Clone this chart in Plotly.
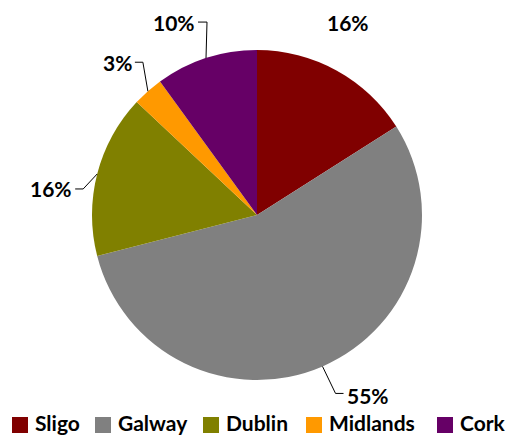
import math
import plotly.graph_objects as go

regions = ["Sligo", "Galway", "Dublin", "Midlands", "Cork"]
shares = [16, 55, 16, 3, 10]
colors = ["#800000", "#808080", "#808000", "#FF9900", "#660066"]

W, H = 507, 436
CX, CY, R = 257, 215, 165  # pie centre / radius in px

# label placement (layout): leader bend offset and label offset relative to slice edge point (px)
label_style = {
    "Sligo":    dict(bend=None, end=None, text=(12, -48), anchor="center"),
    "Galway":   dict(bend=(13, 27), end=(21, 27), text=(22, 29), anchor="left"),
    "Dublin":   dict(bend=(-14, 15), end=(-22, 15), text=(-23, 15), anchor="right"),
    "Midlands": dict(bend=(-5, -29), end=(-13, -29), text=(-14, -29), anchor="right"),
    "Cork":     dict(bend=(1, -36), end=(-8, -36), text=(-9, -36), anchor="right"),
}
# legend layout: x of each swatch (px), legend row centre y
legend_x = [12, 95, 203, 306, 437]
LEG_Y, SW = 425, 16

FONT = "Lato, Calibri, Arial, sans-serif"
FS = 21


def px2paper(x, y):
    return x / W, 1 - y / H


fig = go.Figure(go.Pie(
    labels=regions, values=shares, sort=False, direction="clockwise", rotation=0,
    marker=dict(colors=colors, line=dict(width=0)), textinfo="none", hoverinfo="label+percent",
    domain=dict(x=[(CX - R) / W, (CX + R) / W], y=[1 - (CY + R) / H, 1 - (CY - R) / H]),
    showlegend=False,
))

total = sum(shares)
cum = 0
annotations, shapes = [], []
for name, v in zip(regions, shares):
    mid = (cum + v / 2) / total * 2 * math.pi
    cum += v
    ex, ey = CX + R * math.sin(mid), CY - R * math.cos(mid)
    st = label_style[name]
    if st["bend"] is not None:
        pts = [(ex, ey), (ex + st["bend"][0], ey + st["bend"][1]), (ex + st["end"][0], ey + st["end"][1])]
        path = "M " + " L ".join(f"{px2paper(a, b)[0]},{px2paper(a, b)[1]}" for a, b in pts)
        shapes.append(dict(type="path", path=path, xref="paper", yref="paper",
                           line=dict(color="#000000", width=1)))
    tx, ty = px2paper(ex + st["text"][0], ey + st["text"][1])
    annotations.append(dict(x=tx, y=ty, xref="paper", yref="paper", text=f"<b>{v}%</b>",
                            showarrow=False, xanchor=st["anchor"], yanchor="middle",
                            font=dict(family=FONT, size=FS, color="#000000")))

# legend
for name, col, lx in zip(regions, colors, legend_x):
    x0, y0 = px2paper(lx, LEG_Y - SW / 2)
    x1, y1 = px2paper(lx + SW, LEG_Y + SW / 2)
    shapes.append(dict(type="rect", xref="paper", yref="paper", x0=x0, x1=x1, y0=y1, y1=y0,
                       fillcolor=col, line=dict(width=0)))
    tx = px2paper(lx + SW + 6, LEG_Y)[0]
    annotations.append(dict(x=tx, y=0, xref="paper", yref="paper", text=f"<b>{name}</b>",
                            showarrow=False, xanchor="left", yanchor="bottom", borderpad=0,
                            font=dict(family=FONT, size=FS, color="#000000")))

fig.update_layout(
    width=W, height=H, margin=dict(l=0, r=0, t=0, b=0),
    paper_bgcolor="white", plot_bgcolor="white",
    annotations=annotations, shapes=shapes, showlegend=False,
)
fig.write_html("out.html", config={"displayModeBar": False},
               post_script="document.body.style.margin='0px';document.body.style.overflow='hidden';")
